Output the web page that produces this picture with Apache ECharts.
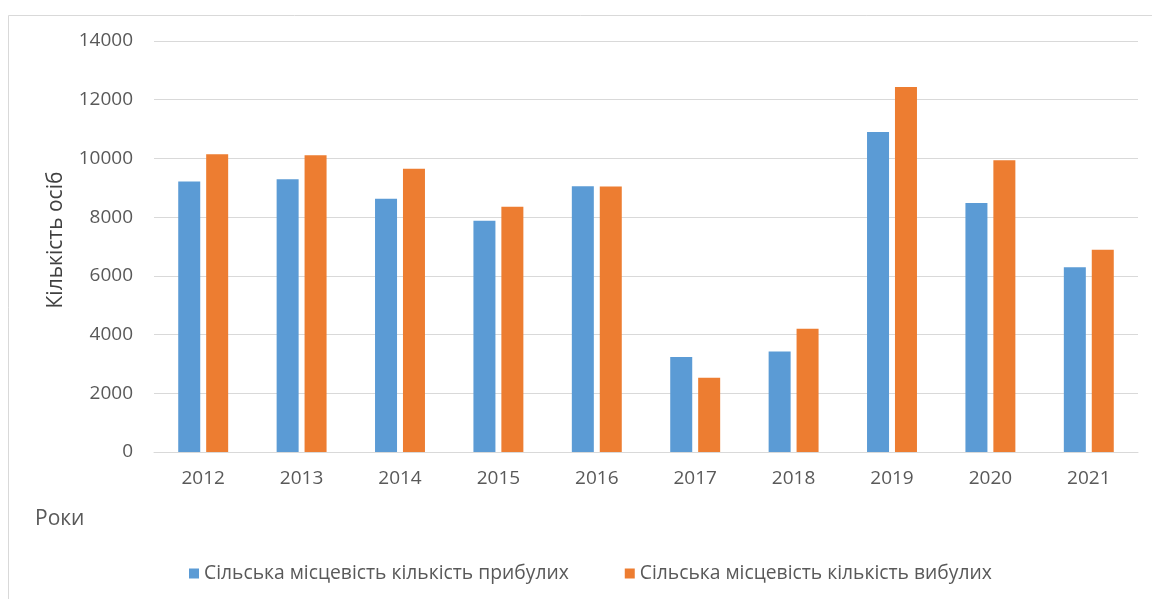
<!DOCTYPE html>
<html>
<head>
<meta charset="utf-8">
<script src="https://cdn.jsdelivr.net/npm/echarts@6/dist/echarts.min.js"></script>
<style>
html,body{margin:0;padding:0;background:#fff;}
#chart{width:1152px;height:599px;}
</style>
</head>
<body>
<div id="chart"></div>
<script>
var categories = ['2012','2013','2014','2015','2016','2017','2018','2019','2020','2021'];
var arrivals = [9210, 9290, 8630, 7880, 9050, 3240, 3420, 10900, 8480, 6290];
var departures = [10140, 10110, 9650, 8350, 9040, 2530, 4200, 12430, 9940, 6890];
var seriesNames = ['Сільська місцевість кількість прибулих', 'Сільська місцевість кількість вибулих'];
var yAxisTitle = 'Кількість осіб';
var xAxisTitle = 'Роки';

var font = 'Open Sans';
var chart = echarts.init(document.getElementById('chart'), null, {renderer: 'canvas'});
chart.setOption({
  animation: false,
  backgroundColor: '#ffffff',
  color: ['#5B9BD5', '#ED7D31'],
  grid: {left: 154, right: 14, top: 41, bottom: 147},
  legend: {
    data: seriesNames,
    left: 184, top: 559,
    icon: 'rect', itemWidth: 10, itemHeight: 10, itemGap: 56, itemTextGap: 7,
    textStyle: {fontFamily: font, fontSize: 19.3, color: '#595959'}
  },
  xAxis: {
    type: 'category',
    data: categories,
    axisLine: {lineStyle: {color: '#D9D9D9', width: 1}},
    axisTick: {show: false},
    axisLabel: {fontFamily: font, fontSize: 19, color: '#595959', margin: 17}
  },
  yAxis: {
    type: 'value',
    min: 0, max: 14000, interval: 2000,
    axisLine: {show: false},
    axisTick: {show: false},
    splitLine: {lineStyle: {color: '#D9D9D9', width: 1}},
    axisLabel: {fontFamily: font, fontSize: 19, color: '#595959', margin: 21, formatter: function (v) { return String(v); }}
  },
  graphic: [
    {type: 'rect', shape: {x: 8.5, y: 15.5, width: 1160, height: 600}, style: {fill: 'none', stroke: '#D9D9D9', lineWidth: 1}, silent: true, z: -1},
    {type: 'text', x: 56, y: 240, rotation: Math.PI / 2,
      style: {text: yAxisTitle, fontFamily: font, fontSize: 21, fill: '#404040', textAlign: 'center', textVerticalAlign: 'middle'}},
    {type: 'text', x: 35, y: 519,
      style: {text: xAxisTitle, fontFamily: font, fontSize: 21, fill: '#595959', textAlign: 'left', textVerticalAlign: 'middle'}}
  ],
  series: [
    {name: seriesNames[0], type: 'bar', data: arrivals, barWidth: 22, barGap: '27%'},
    {name: seriesNames[1], type: 'bar', data: departures, barWidth: 22, barGap: '27%'}
  ]
});
</script>
</body>
</html>
